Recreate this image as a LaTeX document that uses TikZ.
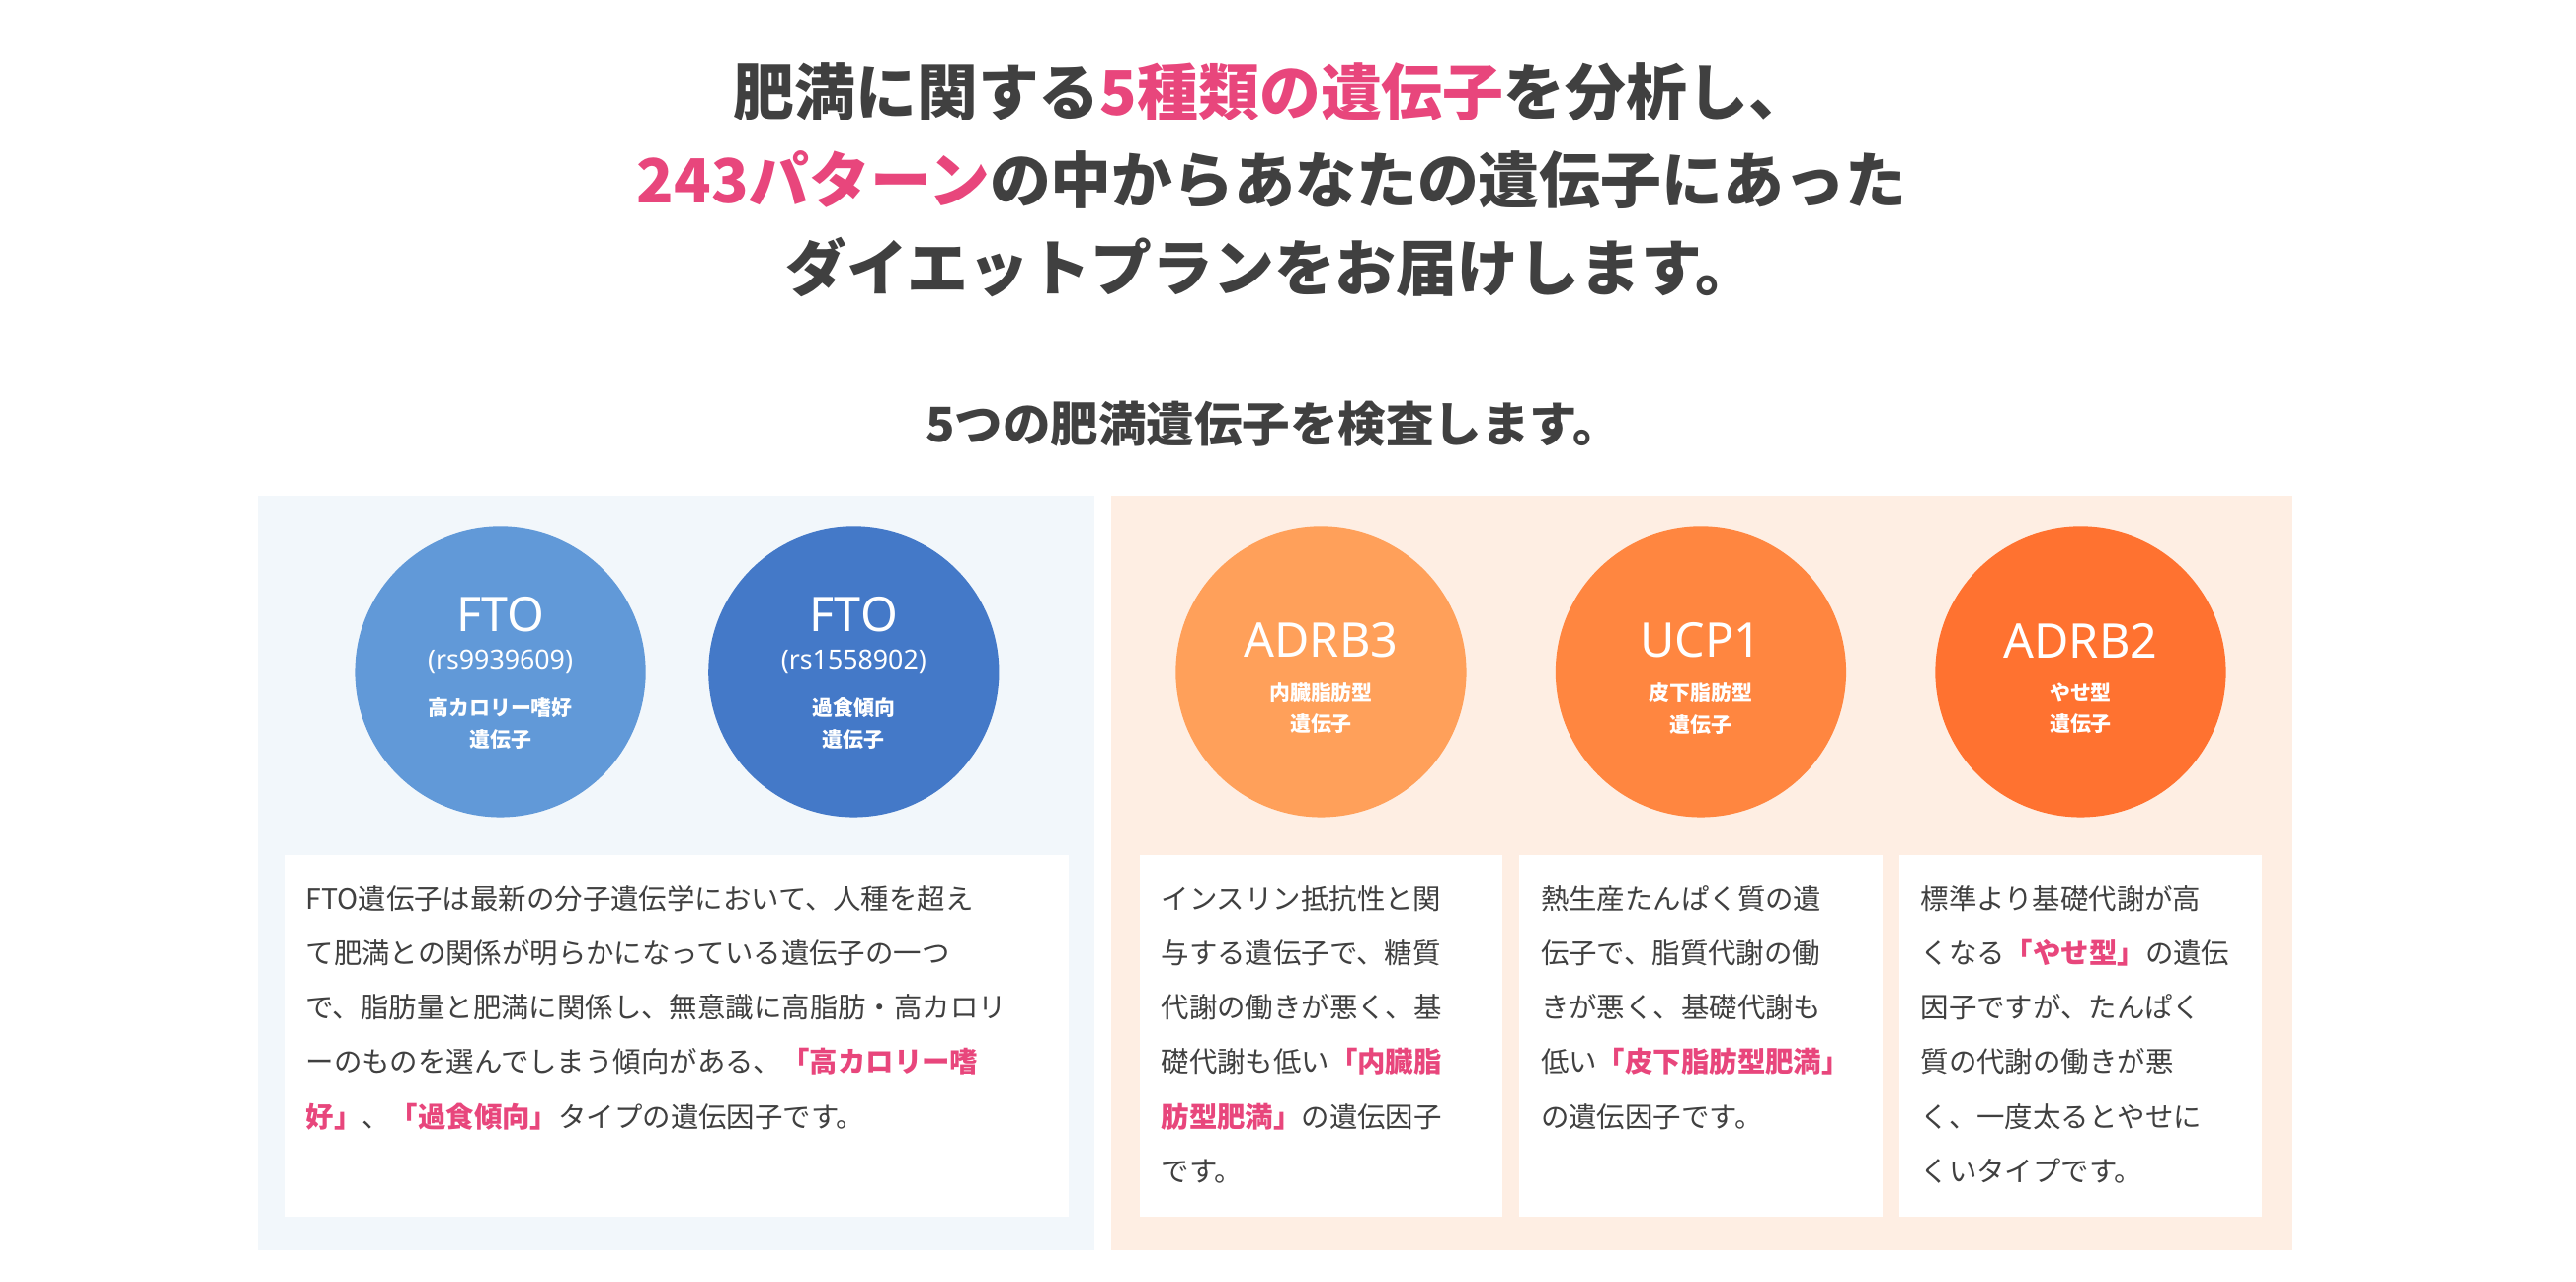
\documentclass[tikz,border=0pt]{standalone}
\usepackage{fontspec}
\setmainfont{Noto Sans CJK JP}
\newfontfamily\latin{Noto Sans}
\definecolor{txt}{HTML}{404040}
\definecolor{pk}{HTML}{E8467C}
\definecolor{lb}{HTML}{F2F7FB}
\definecolor{lo}{HTML}{FEEEE3}
\definecolor{c1}{HTML}{6199D8}
\definecolor{c2}{HTML}{4479C8}
\definecolor{c3}{HTML}{FFA05A}
\definecolor{c4}{HTML}{FF8640}
\definecolor{c5}{HTML}{FF7230}
\newcommand\hp[1]{\textcolor{pk}{\bfseries #1}}
\tikzset{
 gc/.style={circle,minimum size=176pt,inner sep=0pt},
 gname/.style={text=white,font=\latin\fontsize{29}{30}\selectfont},
 gsub/.style={text=white,font=\latin\fontsize{16}{18}\selectfont},
 gjp/.style={text=white,font=\bfseries\fontsize{12.5}{19}\selectfont,align=center},
 wbox/.style={fill=white,draw=none},
 body/.style={anchor=north west,text=txt,align=left,inner sep=0pt,font=\fontsize{17}{33}\selectfont},
}
\begin{document}
\begin{tikzpicture}[x=1pt,y=-1pt]
\useasboundingbox (0,0) rectangle (1560,776.4);
\node[text=txt,align=center,font=\bfseries\fontsize{37}{53}\selectfont] (title) at (770,109)
 {肥満に関する\textcolor{pk}{5種類の遺伝子}を分析し、\\\textcolor{pk}{243パターン}の中からあなたの遺伝子にあった\\ダイエットプランをお届けします。};
\node[text=txt,font=\bfseries\fontsize{29}{30}\selectfont] (sub) at (771,257) {5つの肥満遺伝子を検査します。};
\fill[lb] (156,300) rectangle (663,757);
\fill[lo] (673,300) rectangle (1388,757);
% circles
\node[gc,fill=c1] (g1) at (303,407) {};
\node[gc,fill=c2] (g2) at (517,407) {};
\node[gc,fill=c3] (g3) at (800,407) {};
\node[gc,fill=c4] (g4) at (1030,407) {};
\node[gc,fill=c5] (g5) at (1260,407) {};
\node[gname] at (303,372) {FTO};
\node[gsub] at (303,401) {(rs9939609)};
\node[gjp] at (303,438) {高カロリー嗜好\\遺伝子};
\node[gname] at (517,372) {FTO};
\node[gsub] at (517,401) {(rs1558902)};
\node[gjp] at (517,438) {過食傾向\\遺伝子};
\node[gname] at (800,388) {ADRB3};
\node[gjp] at (800,429) {内臓脂肪型\\遺伝子};
\node[gname] at (1030,388) {UCP1};
\node[gjp] at (1030,429) {皮下脂肪型\\遺伝子};
\node[gname] at (1260,388) {ADRB2};
\node[gjp] at (1260,429) {やせ型\\遺伝子};
% boxes
\fill[wbox] (173,518) rectangle (647,737);
\fill[wbox] (690,518) rectangle (910,737);
\fill[wbox] (920,518) rectangle (1140,737);
\fill[wbox] (1150,518) rectangle (1370,737);
\node[body] (t1) at (185,536) {FTO遺伝子は最新の分子遺伝学において、人種を超え\\て肥満との関係が明らかになっている遺伝子の一つ\\で、脂肪量と肥満に関係し、無意識に高脂肪・高カロリ\\ーのものを選んでしまう傾向がある、\hp{「高カロリー嗜}\\\hp{好」}、\hp{「過食傾向」}タイプの遺伝因子です。};
\node[body] (t2) at (703,536) {インスリン抵抗性と関\\与する遺伝子で、糖質\\代謝の働きが悪く、基\\礎代謝も低い\hp{「内臓脂}\\\hp{肪型肥満」}の遺伝因子\\です。};
\node[body] (t3) at (933,536) {熱生産たんぱく質の遺\\伝子で、脂質代謝の働\\きが悪く、基礎代謝も\\低い\hp{「皮下脂肪型肥満」}\\の遺伝因子です。};
\node[body] (t4) at (1163,536) {標準より基礎代謝が高\\くなる\hp{「やせ型」}の遺伝\\因子ですが、たんぱく\\質の代謝の働きが悪\\く、一度太るとやせに\\くいタイプです。};
\end{tikzpicture}
\end{document}
